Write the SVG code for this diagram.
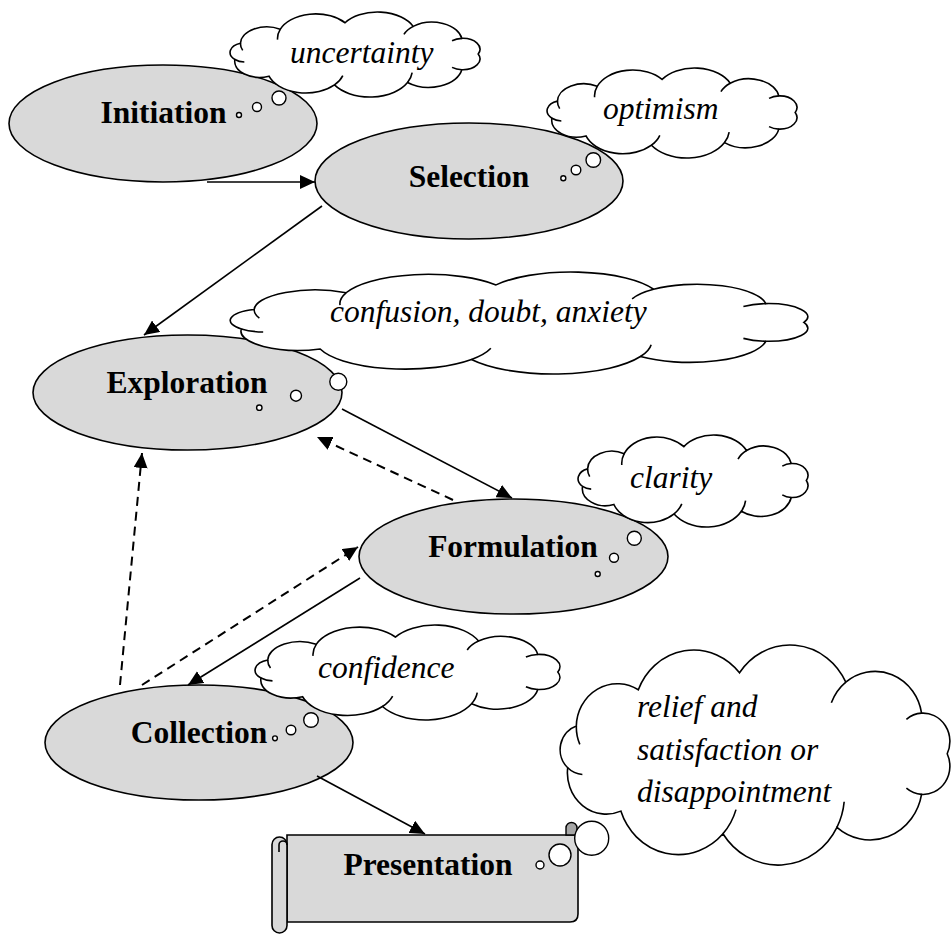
<svg xmlns="http://www.w3.org/2000/svg" width="952" height="935" viewBox="0 0 952 935">
<style>
.node{fill:#d9d9d9;stroke:#000;stroke-width:1.6}
.lbl{font-family:"Liberation Serif","Times New Roman",serif;font-size:31.5px;font-weight:bold;text-anchor:middle;fill:#000}
.emo{font-family:"Liberation Serif","Times New Roman",serif;font-size:31.5px;font-style:italic;fill:#000}
.cloud{fill:#fff;stroke:#000;stroke-width:1.6}
.inner{fill:none;stroke:#000;stroke-width:1.6}
.bub{fill:#fff;stroke:#000;stroke-width:1.4}
.line{fill:none;stroke:#000;stroke-width:1.6}
.dash{fill:none;stroke:#000;stroke-width:2;stroke-dasharray:9 6}
</style>
<defs>
<marker id="ah" markerUnits="userSpaceOnUse" markerWidth="16" markerHeight="14" refX="15" refY="7" orient="auto">
<path d="M0,0 L15,7 L0,14 z" fill="#000"/>
</marker>
</defs>

<g id="initiation">
<ellipse class="node" cx="163" cy="123.5" rx="154" ry="58.5"/>
<text class="lbl" x="163.5" y="123">Initiation</text>
</g>
<g id="selection">
<ellipse class="node" cx="469" cy="181" rx="154" ry="58"/>
<text class="lbl" x="469" y="187">Selection</text>
</g>
<g id="exploration">
<ellipse class="node" cx="187.5" cy="392.5" rx="154.5" ry="57.5"/>
<text class="lbl" x="187" y="393">Exploration</text>
</g>
<g id="formulation">
<ellipse class="node" cx="513.5" cy="556.5" rx="154.5" ry="57.5"/>
<text class="lbl" x="513" y="557">Formulation</text>
</g>
<g id="collection">
<ellipse class="node" cx="199" cy="742.5" rx="154" ry="57.5"/>
<text class="lbl" x="199" y="743">Collection</text>
</g>

<g id="cloud-relief">
<g transform="translate(522.94,630.73) scale(2.3311,2.4609)">
<path class="cloud" vector-effect="non-scaling-stroke" d="M19.2,55.7 A10.1,10.1 0 0 1 22.9,38.7 A17.6,17.6 0 0 1 49.5,24 A25.5,25.5 0 0 1 92.9,17.1 A26.5,26.5 0 0 1 138.5,20.9 A20.2,20.2 0 0 1 171,33.5 A11.5,11.5 0 0 1 182,50 A11.5,11.5 0 0 1 171,66.5 A22.4,22.4 0 0 1 134.7,79.9 A28.4,28.4 0 0 1 85.8,82.5 A26,26 0 0 1 42,73.3 A16.7,16.7 0 0 1 19.2,55.7 Z"/>
<path class="inner" vector-effect="non-scaling-stroke" d="M138.5,20.9 A20.2,20.2 0 0 0 132.3,29.3 M171,33.5 A11.5,11.5 0 0 0 164.5,36 M171,66.5 A11.5,11.5 0 0 1 164.5,64 M134.7,79.9 A28.4,28.4 0 0 0 137.8,69.5 M85.8,82.5 A26,26 0 0 0 91.4,72.7 M19.2,55.7 A10.1,10.1 0 0 0 25.5,58.4 M22.9,38.7 A17.6,17.6 0 0 0 24.4,46.2"/>
</g>
<text class="emo" x="637" y="717">relief and</text>
<text class="emo" x="637" y="760">satisfaction or</text>
<text class="emo" x="637" y="802">disappointment</text>
</g>

<g id="presentation">
<path class="node" d="M287,835 H578 V914 Q578,922 570,922 H287 Z"/>
<path d="M566,835 V828 A5.5,5.5 0 0 1 577,828 V835 Z" fill="#a6a6a6" stroke="#000" stroke-width="1.4"/>
<rect class="node" x="272" y="837" width="15" height="96" rx="7.5"/>
<path class="inner" d="M279,852 v-7 a4,4 0 0 1 8,0"/>
<text class="lbl" x="428" y="875">Presentation</text>
</g>

<g id="bubbles-relief">
<circle class="bub" cx="540" cy="865" r="4"/>
<circle class="bub" cx="560" cy="855" r="11"/>
<circle class="bub" cx="591.7" cy="838.3" r="17"/>
</g>

<g id="cloud-uncertainty">
<g transform="translate(206.24,6.49) scale(1.4943,0.9508)">
<path class="cloud" vector-effect="non-scaling-stroke" d="M19.2,55.7 A10.1,10.1 0 0 1 22.9,38.7 A17.6,17.6 0 0 1 49.5,24 A25.5,25.5 0 0 1 92.9,17.1 A26.5,26.5 0 0 1 138.5,20.9 A20.2,20.2 0 0 1 171,33.5 A11.5,11.5 0 0 1 182,50 A11.5,11.5 0 0 1 171,66.5 A22.4,22.4 0 0 1 134.7,79.9 A28.4,28.4 0 0 1 85.8,82.5 A26,26 0 0 1 42,73.3 A16.7,16.7 0 0 1 19.2,55.7 Z"/>
<path class="inner" vector-effect="non-scaling-stroke" d="M49.5,24 A25.5,25.5 0 0 0 47.75,34.9 M138.5,20.9 A20.2,20.2 0 0 0 132.3,29.3 M171,33.5 A11.5,11.5 0 0 0 164.5,36 M171,66.5 A11.5,11.5 0 0 1 164.5,64 M134.7,79.9 A28.4,28.4 0 0 0 137.8,69.5 M85.8,82.5 A26,26 0 0 0 91.4,72.7 M19.2,55.7 A10.1,10.1 0 0 0 25.5,58.4 M22.9,38.7 A17.6,17.6 0 0 0 24.4,46.2"/>
</g>
<text class="emo" x="290" y="63">uncertainty</text>
<circle class="bub" cx="239" cy="115" r="2.5"/>
<circle class="bub" cx="257" cy="107" r="4.5"/>
<circle class="bub" cx="279" cy="98" r="7"/>
</g>

<g id="cloud-optimism">
<g transform="translate(523.24,62.16) scale(1.4943,1.0067)">
<path class="cloud" vector-effect="non-scaling-stroke" d="M19.2,55.7 A10.1,10.1 0 0 1 22.9,38.7 A17.6,17.6 0 0 1 49.5,24 A25.5,25.5 0 0 1 92.9,17.1 A26.5,26.5 0 0 1 138.5,20.9 A20.2,20.2 0 0 1 171,33.5 A11.5,11.5 0 0 1 182,50 A11.5,11.5 0 0 1 171,66.5 A22.4,22.4 0 0 1 134.7,79.9 A28.4,28.4 0 0 1 85.8,82.5 A26,26 0 0 1 42,73.3 A16.7,16.7 0 0 1 19.2,55.7 Z"/>
<path class="inner" vector-effect="non-scaling-stroke" d="M49.5,24 A25.5,25.5 0 0 0 47.75,34.9 M138.5,20.9 A20.2,20.2 0 0 0 132.3,29.3 M171,33.5 A11.5,11.5 0 0 0 164.5,36 M171,66.5 A11.5,11.5 0 0 1 164.5,64 M134.7,79.9 A28.4,28.4 0 0 0 137.8,69.5 M85.8,82.5 A26,26 0 0 0 91.4,72.7 M19.2,55.7 A10.1,10.1 0 0 0 25.5,58.4 M22.9,38.7 A17.6,17.6 0 0 0 24.4,46.2"/>
</g>
<text class="emo" x="603" y="119">optimism</text>
<circle class="bub" cx="563.3" cy="178.3" r="2.5"/>
<circle class="bub" cx="576" cy="170" r="4.8"/>
<circle class="bub" cx="593.3" cy="160" r="7.3"/>
</g>

<g id="cloud-confusion">
<g transform="translate(175.07,265.38) scale(3.4549,1.1409)">
<path class="cloud" vector-effect="non-scaling-stroke" d="M19.2,55.7 A10.1,10.1 0 0 1 22.9,38.7 A17.6,17.6 0 0 1 49.5,24 A25.5,25.5 0 0 1 92.9,17.1 A26.5,26.5 0 0 1 138.5,20.9 A20.2,20.2 0 0 1 171,33.5 A11.5,11.5 0 0 1 182,50 A11.5,11.5 0 0 1 171,66.5 A22.4,22.4 0 0 1 134.7,79.9 A28.4,28.4 0 0 1 85.8,82.5 A26,26 0 0 1 42,73.3 A16.7,16.7 0 0 1 19.2,55.7 Z"/>
<path class="inner" vector-effect="non-scaling-stroke" d="M49.5,24 A25.5,25.5 0 0 0 47.75,34.9 M138.5,20.9 A20.2,20.2 0 0 0 132.3,29.3 M171,33.5 A11.5,11.5 0 0 0 164.5,36 M171,66.5 A11.5,11.5 0 0 1 164.5,64 M134.7,79.9 A28.4,28.4 0 0 0 137.8,69.5 M85.8,82.5 A26,26 0 0 0 91.4,72.7 M19.2,55.7 A10.1,10.1 0 0 0 25.5,58.4 M22.9,38.7 A17.6,17.6 0 0 0 24.4,46.2"/>
</g>
<text class="emo" x="330" y="322">confusion, doubt, anxiety</text>
<circle class="bub" cx="259.3" cy="407.7" r="2.7"/>
<circle class="bub" cx="296" cy="395.7" r="5.5"/>
<circle class="bub" cx="338.3" cy="381.7" r="8.5"/>
</g>

<g id="cloud-clarity">
<g transform="translate(556.14,429.03) scale(1.3748,1.0291)">
<path class="cloud" vector-effect="non-scaling-stroke" d="M19.2,55.7 A10.1,10.1 0 0 1 22.9,38.7 A17.6,17.6 0 0 1 49.5,24 A25.5,25.5 0 0 1 92.9,17.1 A26.5,26.5 0 0 1 138.5,20.9 A20.2,20.2 0 0 1 171,33.5 A11.5,11.5 0 0 1 182,50 A11.5,11.5 0 0 1 171,66.5 A22.4,22.4 0 0 1 134.7,79.9 A28.4,28.4 0 0 1 85.8,82.5 A26,26 0 0 1 42,73.3 A16.7,16.7 0 0 1 19.2,55.7 Z"/>
<path class="inner" vector-effect="non-scaling-stroke" d="M49.5,24 A25.5,25.5 0 0 0 47.75,34.9 M138.5,20.9 A20.2,20.2 0 0 0 132.3,29.3 M171,33.5 A11.5,11.5 0 0 0 164.5,36 M171,66.5 A11.5,11.5 0 0 1 164.5,64 M134.7,79.9 A28.4,28.4 0 0 0 137.8,69.5 M85.8,82.5 A26,26 0 0 0 91.4,72.7 M19.2,55.7 A10.1,10.1 0 0 0 25.5,58.4 M22.9,38.7 A17.6,17.6 0 0 0 24.4,46.2"/>
</g>
<text class="emo" x="630" y="488">clarity</text>
<circle class="bub" cx="597.7" cy="574" r="2.5"/>
<circle class="bub" cx="614" cy="557.7" r="4.5"/>
<circle class="bub" cx="634.3" cy="538.3" r="7"/>
</g>

<g id="cloud-confidence">
<g transform="translate(226.01,618.84) scale(1.8231,1.0626)">
<path class="cloud" vector-effect="non-scaling-stroke" d="M19.2,55.7 A10.1,10.1 0 0 1 22.9,38.7 A17.6,17.6 0 0 1 49.5,24 A25.5,25.5 0 0 1 92.9,17.1 A26.5,26.5 0 0 1 138.5,20.9 A20.2,20.2 0 0 1 171,33.5 A11.5,11.5 0 0 1 182,50 A11.5,11.5 0 0 1 171,66.5 A22.4,22.4 0 0 1 134.7,79.9 A28.4,28.4 0 0 1 85.8,82.5 A26,26 0 0 1 42,73.3 A16.7,16.7 0 0 1 19.2,55.7 Z"/>
<path class="inner" vector-effect="non-scaling-stroke" d="M49.5,24 A25.5,25.5 0 0 0 47.75,34.9 M138.5,20.9 A20.2,20.2 0 0 0 132.3,29.3 M171,33.5 A11.5,11.5 0 0 0 164.5,36 M171,66.5 A11.5,11.5 0 0 1 164.5,64 M134.7,79.9 A28.4,28.4 0 0 0 137.8,69.5 M85.8,82.5 A26,26 0 0 0 91.4,72.7 M19.2,55.7 A10.1,10.1 0 0 0 25.5,58.4 M22.9,38.7 A17.6,17.6 0 0 0 24.4,46.2"/>
</g>
<text class="emo" x="318" y="678">confidence</text>
<circle class="bub" cx="275" cy="738.3" r="2.4"/>
<circle class="bub" cx="291" cy="730" r="4.8"/>
<circle class="bub" cx="311" cy="720" r="7.3"/>
</g>

<g id="connectors">
<line class="line" x1="207" y1="182" x2="315" y2="182" marker-end="url(#ah)"/>
<line class="line" x1="322" y1="206" x2="144" y2="335" marker-end="url(#ah)"/>
<line class="line" x1="342" y1="409" x2="512" y2="498" marker-end="url(#ah)"/>
<line class="dash" x1="453" y1="500" x2="317" y2="437" marker-end="url(#ah)"/>
<line class="dash" x1="120" y1="685" x2="142" y2="453" marker-end="url(#ah)"/>
<line class="dash" x1="142" y1="685" x2="358" y2="547" marker-end="url(#ah)"/>
<line class="line" x1="360" y1="578" x2="188" y2="685" marker-end="url(#ah)"/>
<line class="line" x1="317" y1="776" x2="425" y2="834" marker-end="url(#ah)"/>
</g>
</svg>
